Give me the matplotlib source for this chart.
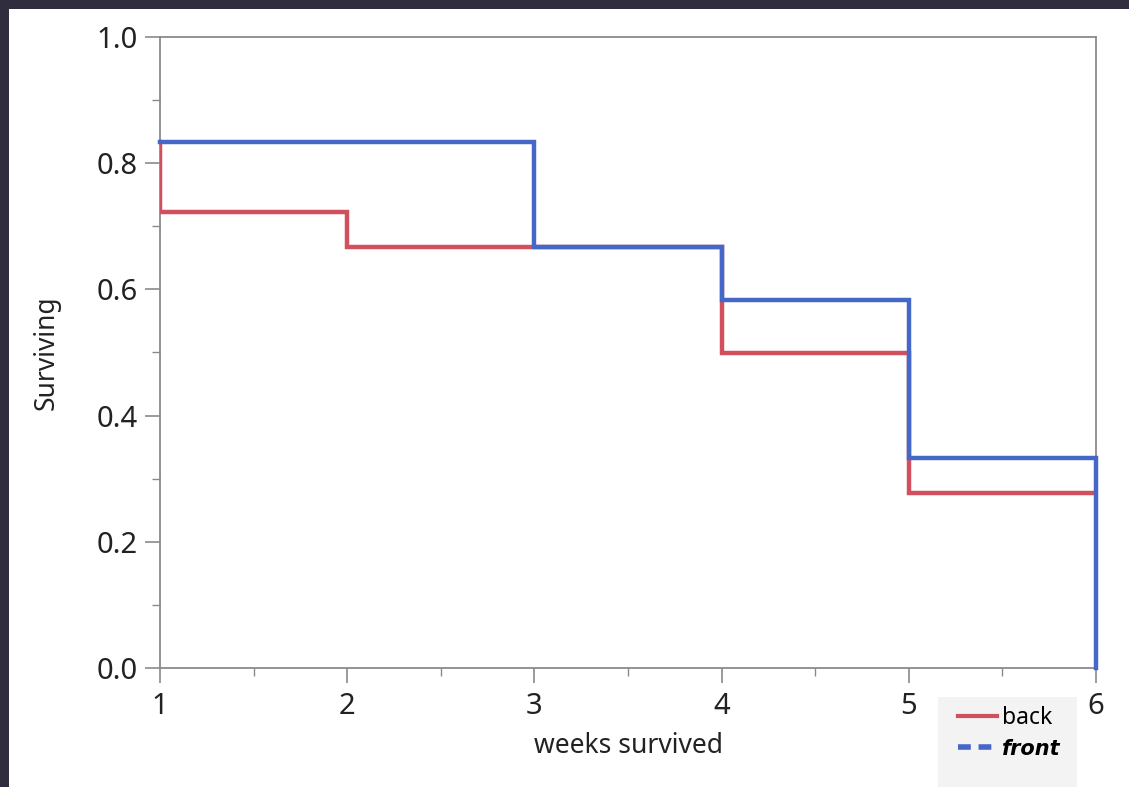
import matplotlib
matplotlib.use("Agg")
import matplotlib.pyplot as plt
from matplotlib.ticker import MultipleLocator
from matplotlib.lines import Line2D

# survival by week (value held from each week until the next)
weeks = [1, 2, 3, 4, 5, 6]
back_start = 0.833
back = [0.722, 0.667, 0.667, 0.500, 0.278]
back_end = 0.278
front_start = 0.833
front = [0.833, 0.833, 0.667, 0.583, 0.333]
front_end = 0.0

red = "#d0505e"
blue = "#4467c8"
grey = "#8a8a8a"

plt.rcParams["font.family"] = ["Noto Sans", "DejaVu Sans"]

fig = plt.figure(figsize=(11.29, 7.87), dpi=100)
fig.patch.set_facecolor("#302e3e")
# white panel inside the dark frame
fig.add_artist(plt.Rectangle((9 / 1129, 0), 1, 1 - 9 / 787, transform=fig.transFigure,
                             facecolor="white", edgecolor="none", zorder=0))

ax = fig.add_axes([160 / 1129, 1 - 668 / 787, (1096 - 160) / 1129, (668 - 37) / 787])
ax.set_facecolor("white")

ax.step([weeks[0]] + weeks, [back_start] + back + [back_end], where="post",
        color=red, lw=3.2, solid_joinstyle="miter", zorder=3)
ax.step([weeks[0]] + weeks, [front_start] + front + [front_end], where="post",
        color=blue, lw=3.2, solid_joinstyle="miter", zorder=4, clip_on=False)

ax.set_xlim(1, 6)
ax.set_ylim(0, 1)
ax.xaxis.set_major_locator(MultipleLocator(1))
ax.xaxis.set_minor_locator(MultipleLocator(0.5))
ax.yaxis.set_major_locator(MultipleLocator(0.2))
ax.yaxis.set_minor_locator(MultipleLocator(0.1))
ax.yaxis.set_major_formatter(plt.FuncFormatter(lambda v, p: f"{v:.1f}"))

for s in ax.spines.values():
    s.set_color(grey)
    s.set_linewidth(1.3)

ax.tick_params(which="major", length=11, width=1.2, color=grey, labelsize=21,
               labelcolor="#222222", direction="out")
ax.tick_params(which="minor", length=6, width=1.0, color=grey, direction="out")
ax.tick_params(axis="y", which="major", pad=5)
ax.tick_params(axis="x", which="major", pad=6)

ax.set_ylabel("Surviving", fontsize=19, color="#222222", labelpad=26)
ax.set_xlabel("weeks survived", fontsize=19, color="#222222", labelpad=8)

# legend box in the lower right corner
fig.add_artist(plt.Rectangle((938 / 1129, 0), 139 / 1129, 90 / 787, transform=fig.transFigure,
                             facecolor="#f3f3f3", edgecolor="none", zorder=1))
handles = [Line2D([], [], color=red, lw=3),
           Line2D([], [], color=blue, lw=4, ls=(0, (2.3, 1.4)))]
leg = fig.legend(handles, ["back", "front"], loc="upper left",
                 bbox_to_anchor=(958 / 1129, 1 - 706 / 787),
                 frameon=False, fontsize=16.5, handlelength=1.7, handletextpad=0.2,
                 labelspacing=0.4, borderaxespad=0.0, borderpad=0.0)
texts = leg.get_texts()
texts[1].set_fontfamily("DejaVu Sans")
texts[1].set_fontweight("bold")
texts[1].set_fontstyle("italic")
texts[1].set_fontsize(15)

fig.savefig("out.png", dpi=100, facecolor=fig.get_facecolor())
